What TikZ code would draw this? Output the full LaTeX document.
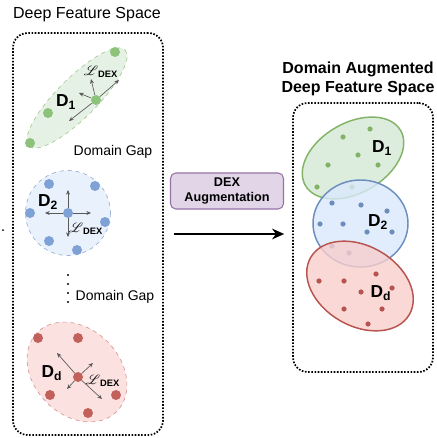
\documentclass[tikz,border=0pt]{standalone}
\usepackage{fontspec}
\setmainfont{Liberation Sans}
\usepackage{mathrsfs}
\usetikzlibrary{arrows.meta}

\definecolor{grnfill}{HTML}{D5E8D4}
\definecolor{grnline}{HTML}{82B366}
\definecolor{grndot}{HTML}{8CC27A}
\definecolor{blufill}{HTML}{DAE8FC}
\definecolor{bluline}{HTML}{6C8EBF}
\definecolor{bludot}{HTML}{7EA1D6}
\definecolor{redfill}{HTML}{F8CECC}
\definecolor{redline}{HTML}{B85450}
\definecolor{reddot}{HTML}{C2605B}
\definecolor{purfill}{HTML}{E1D5E7}
\definecolor{purline}{HTML}{9673A6}

\newcommand{\ldex}{$\mathscr{L}$\textsubscript{\bfseries DEX}}

\begin{document}
\begin{tikzpicture}[x=0.75pt, y=-0.75pt,
  spacebox/.style={draw, line width=1.3pt, dash pattern=on 1.2pt off 1.2pt,
    rounded corners=11pt, inner sep=0pt},
  title/.style={font=\fontsize{12}{14}\selectfont, align=center},
  gap/.style={font=\fontsize{10.5}{12}\selectfont},
  dlabel/.style={font=\fontsize{13}{15}\selectfont\bfseries},
  loss/.style={font=\fontsize{10}{12}\selectfont},
  bigdot/.style={circle, inner sep=0pt, minimum size=7.5pt},
  pull/.style={-{Stealth[length=3.5pt,width=3pt]}, draw=black!65, line width=0.5pt},
  augbox/.style={draw=purline, fill=purfill, line width=0.8pt, rounded corners=4pt,
    minimum width=84.75pt, minimum height=27pt, align=center,
    font=\fontsize{9.5}{11}\selectfont\bfseries},
  softell/.style={dashed, line width=0.5pt, fill opacity=0.6},
  hardell/.style={line width=1.1pt, fill opacity=0.8},
]
\useasboundingbox (0,0) rectangle (436,438);

% titles
\node[title] (ltitle) at (87,15) {Deep Feature Space};
\node[title, font=\fontsize{12}{14}\selectfont\bfseries] (rtitle) at (358,79)
  {Domain Augmented\\Deep Feature Space};

% the two feature spaces
\node[spacebox, minimum width=112.5pt, minimum height=301.5pt] (lbox) at (88,234) {};
\node[spacebox, minimum width=105pt, minimum height=201.75pt] (rbox) at (363,237.5) {};

% stray dot left of the box
\fill (3,230) circle[radius=1];

% --- domain 1 (left)
\draw[softell, draw=grnline!70, fill=grnfill, rotate around={45:(77,98)}]
  (77,98) ellipse[x radius=68, y radius=20];
\foreach \p in {(115,52),(48,113),(30,143)}
  \node[bigdot, fill=grndot] at \p {};
\node[bigdot, fill=grndot] (g0) at (96,100) {};
\coordinate (g1) at (119,80);
\coordinate (g2) at (69,121);
\coordinate (g3) at (79,93);
\coordinate (g4) at (91,79);
\foreach \t in {g1,g2,g3,g4}
  \draw[pull] (g0) -- (\t);
\node[dlabel] (d1) at (66,102) {D\textsubscript{1}};
\node[loss] (l1) at (101,72) {\ldex};
\node[gap] (gap1) at (113,152) {Domain Gap};

% --- domain 2 (left)
\draw[softell, draw=bluline!70, fill=blufill] (68,213) circle[radius=42.5];
\foreach \p in {(49,184),(95,186),(30,213),(105,222),(49,241),(77,250)}
  \node[bigdot, fill=bludot] at \p {};
\node[bigdot, fill=bludot] (b0) at (68,213) {};
\coordinate (b1) at (68,190);
\coordinate (b2) at (68,237);
\coordinate (b3) at (45,213);
\coordinate (b4) at (91,213);
\foreach \t in {b1,b2,b3,b4}
  \draw[pull] (b0) -- (\t);
\node[dlabel] (d2) at (48,202) {D\textsubscript{2}};
\node[loss] (l2) at (86,229) {\ldex};

% vertical dots and second gap
\foreach \y in {275,284,293,302}
  \fill (68,\y) circle[radius=1.2];
\node[gap] (gap2) at (115,297) {Domain Gap};

% --- domain d (left)
\draw[softell, draw=redline!60, fill=redfill, rotate around={-45:(77,372)}]
  (77,372) ellipse[x radius=56, y radius=43];
\foreach \p in {(38,338),(78,338),(50,395),(116,395),(88,413)}
  \node[bigdot, fill=reddot] at \p {};
\node[bigdot, fill=reddot] (r0) at (78,377) {};
\coordinate (r1) at (57,353);
\coordinate (r2) at (102,399);
\coordinate (r3) at (67,389);
\coordinate (r4) at (93,363);
\foreach \t in {r1,r2,r3,r4}
  \draw[pull] (r0) -- (\t);
\node[dlabel] (dd) at (52,373) {D\textsubscript{d}};
\node[loss] (ld) at (103,381) {\ldex};

% augmentation step
\node[augbox] (aug) at (227,191) {DEX\\Augmentation};
\draw[-{Stealth[length=9pt,width=8pt]}, line width=1.5pt]
  ([xshift=7.5pt]lbox.east) -- ([xshift=-6pt]lbox.east -| rbox.west);

% --- augmented domains (right)
\draw[hardell, draw=grnline, fill=grnfill, rotate around={30:(353,158)}]
  (353,158) ellipse[x radius=55, y radius=35];
\foreach \p in {(343,137),(370,129),(358,155),(328,165),(378,165),(317,187),(352,187)}
  \fill[grnline] \p circle[radius=2.6];
\node[dlabel] (rd1) at (382,148) {D\textsubscript{1}};

\draw[hardell, draw=bluline, fill=blufill] (360.5,223.5) ellipse[x radius=47.5, y radius=43.5];
\foreach \p in {(332,203),(361,205),(387,211),(320,224),(343,224),(367,232),(392,232),(332,246),(349,253)}
  \fill[bluline] \p circle[radius=2.6];
\node[dlabel] (rd2) at (378,222) {D\textsubscript{2}};

\draw[hardell, draw=redline, fill=redfill, rotate around={-30:(360,286)}]
  (360,286) ellipse[x radius=57, y radius=40];
\foreach \p in {(376,274),(319,281),(344,281),(361,292),(392,288),(344,309),(382,309),(368,324)}
  \fill[redline] \p circle[radius=2.6];
\node[dlabel] (rdd) at (381,293) {D\textsubscript{d}};

\end{tikzpicture}
\end{document}
